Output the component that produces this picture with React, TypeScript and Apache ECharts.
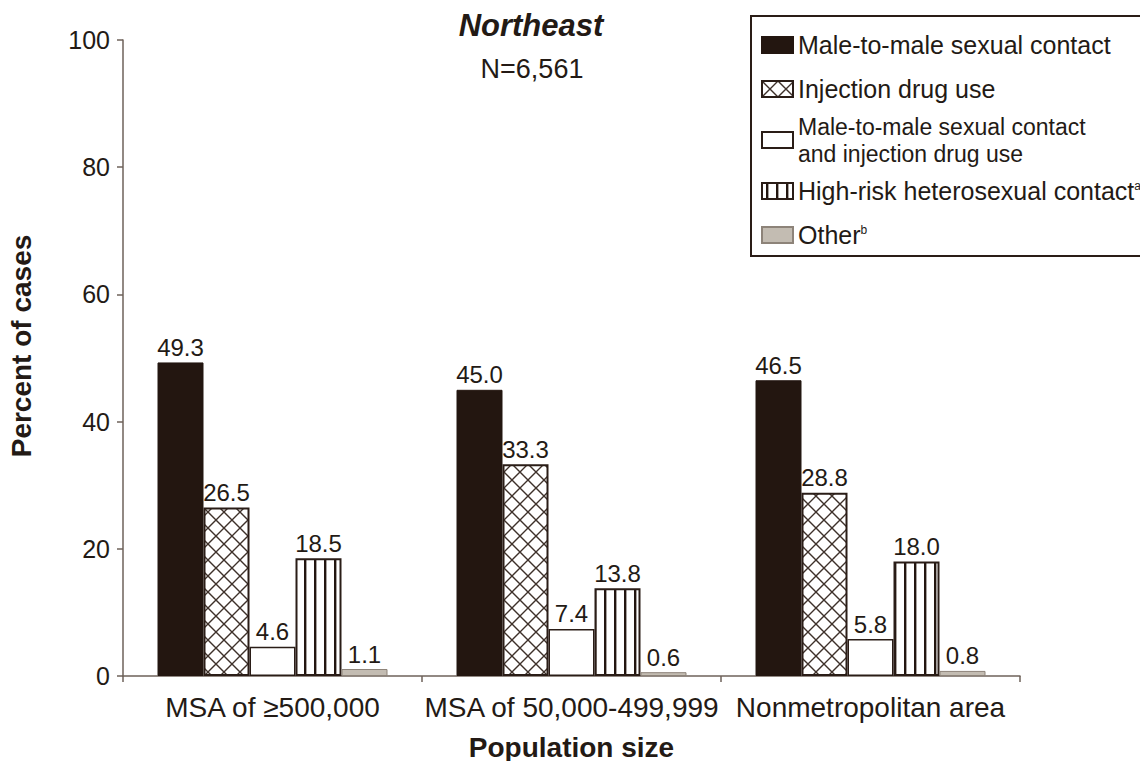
import React, { useEffect, useRef } from 'react';
import * as echarts from 'echarts';

const categories = ['MSA of ≥500,000', 'MSA of 50,000-499,999', 'Nonmetropolitan area'];
const seriesNames = [
  'Male-to-male sexual contact',
  'Injection drug use',
  'Male-to-male sexual contact and injection drug use',
  'High-risk heterosexual contact',
  'Other',
];
const msmValues = [49.3, 45.0, 46.5];
const iduValues = [26.5, 33.3, 28.8];
const msmIduValues = [4.6, 7.4, 5.8];
const heteroValues = [18.5, 13.8, 18.0];
const otherValues = [1.1, 0.6, 0.8];
const yMin = 0;
const yMax = 100;
const yStep = 20;
const titleText = 'Northeast';
const subText = 'N=6,561';
const xAxisName = 'Population size';
const yAxisName = 'Percent of cases';

const FONT = "'Liberation Sans', Arial, Helvetica, sans-serif";
const TXT = '#231a15';
const DARK = '#231610';
const EDGE = '#2a1d17';
const AXIS = '#6e625a';

const svgUrl = (s: string) => 'data:image/svg+xml;charset=utf-8,' + encodeURIComponent(s);

const crossPattern = {
  image: svgUrl(
    "<svg xmlns='http://www.w3.org/2000/svg' width='16' height='16'><rect width='16' height='16' fill='#ffffff'/><path d='M0 0L16 16M16 0L0 16' stroke='#3e312a' stroke-width='1.4' fill='none'/></svg>"
  ),
  repeat: 'repeat',
  imageWidth: 16,
  imageHeight: 16,
};

const stripePattern = {
  image: svgUrl(
    "<svg xmlns='http://www.w3.org/2000/svg' width='10' height='10'><rect width='10' height='10' fill='#ffffff'/><rect x='4' y='0' width='2.4' height='10' fill='#231610'/></svg>"
  ),
  repeat: 'repeat',
  imageWidth: 10,
  imageHeight: 10,
};

export default function App() {
  const ref = useRef<HTMLDivElement>(null);

  useEffect(() => {
    document.body.style.margin = '0';
    if (!ref.current) return;
    const chart = echarts.init(ref.current, undefined, { renderer: 'svg' });

    const label = {
      show: true,
      position: 'top',
      distance: 3,
      fontSize: 24,
      fontFamily: FONT,
      color: TXT,
      formatter: (p: any) => Number(p.value).toFixed(1),
    };

    const mk = (name: string, data: number[], itemStyle: any) => ({
      name,
      type: 'bar',
      data,
      barWidth: 46,
      barGap: '0%',
      label,
      itemStyle,
      emphasis: { disabled: true },
    });

    const option: any = {
      animation: false,
      backgroundColor: '#ffffff',
      textStyle: { fontFamily: FONT },
      grid: { left: 123, right: 120, top: 40, bottom: 85, containLabel: false, outerBoundsMode: 'none' },
      graphic: [
        {
          type: 'rect',
          shape: { x: 751, y: 16, width: 400, height: 240 },
          style: { fill: 'transparent', stroke: EDGE, lineWidth: 2 },
          silent: true,
        },
        {
          type: 'text',
          x: 531,
          y: 25,
          style: {
            text: titleText,
            fontSize: 31,
            fontWeight: 'bold',
            fontStyle: 'italic',
            fontFamily: FONT,
            fill: TXT,
            align: 'center',
            verticalAlign: 'middle',
            textAlign: 'center',
            textVerticalAlign: 'middle',
          },
        },
        {
          type: 'text',
          x: 532,
          y: 69,
          style: {
            text: subText,
            fontSize: 27,
            fontFamily: FONT,
            fill: TXT,
            align: 'center',
            verticalAlign: 'middle',
            textAlign: 'center',
            textVerticalAlign: 'middle',
          },
        },
      ],
      legend: {
        orient: 'vertical',
        left: 761,
        top: 27,
        padding: 0,
        icon: 'rect',
        itemWidth: 31,
        itemHeight: 16,
        itemGap: 8,
        selectedMode: false,
        data: seriesNames,
        textStyle: {
          fontSize: 25,
          color: TXT,
          fontFamily: FONT,
          rich: {
            s: { fontSize: 25, lineHeight: 22, padding: [5, 0, 6, 0], color: TXT, fontFamily: FONT },
            m: { fontSize: 23, lineHeight: 27, color: TXT, fontFamily: FONT },
            sup: { fontSize: 12, lineHeight: 14, verticalAlign: 'top', color: TXT, fontFamily: FONT },
          },
        },
        formatter: (name: string) => {
          if (name === seriesNames[2]) return '{m|Male-to-male sexual contact}\n{m|and injection drug use}';
          if (name === seriesNames[3]) return '{s|' + name + '}{sup|a}';
          if (name === seriesNames[4]) return '{s|' + name + '}{sup|b}';
          return '{s|' + name + '}';
        },
      },
      xAxis: {
        type: 'category',
        data: categories,
        axisLine: { show: true, lineStyle: { color: AXIS, width: 1.5 } },
        axisTick: { show: true, length: 6, lineStyle: { color: AXIS, width: 1.5 } },
        axisLabel: { fontSize: 28, color: TXT, margin: 17, interval: 0, fontFamily: FONT },
        name: xAxisName,
        nameLocation: 'middle',
        nameGap: 57,
        nameTextStyle: { fontSize: 28, fontWeight: 'bold', color: TXT, fontFamily: FONT },
      },
      yAxis: {
        type: 'value',
        min: yMin,
        max: yMax,
        interval: yStep,
        axisLine: { show: true, lineStyle: { color: AXIS, width: 1.5 } },
        axisTick: { show: true, length: 6, lineStyle: { color: AXIS, width: 1.5 } },
        splitLine: { show: false },
        axisLabel: { fontSize: 25, color: TXT, margin: 13, fontFamily: FONT },
        name: yAxisName,
        nameLocation: 'middle',
        nameGap: 88,
        nameRotate: 90,
        nameTextStyle: {
          fontSize: 28,
          fontWeight: 'bold',
          color: TXT,
          fontFamily: FONT,
          padding: [0, 0, 0, 24],
        },
      },
      series: [
        mk(seriesNames[0], msmValues, { color: DARK, borderColor: DARK, borderWidth: 1 }),
        mk(seriesNames[1], iduValues, { color: crossPattern, borderColor: EDGE, borderWidth: 2 }),
        mk(seriesNames[2], msmIduValues, { color: '#ffffff', borderColor: EDGE, borderWidth: 1.5 }),
        mk(seriesNames[3], heteroValues, { color: stripePattern, borderColor: EDGE, borderWidth: 2 }),
        mk(seriesNames[4], otherValues, { color: '#c3bcb2', borderColor: '#8d8379', borderWidth: 1 }),
      ],
    };

    chart.setOption(option);
    return () => chart.dispose();
  }, []);

  return <div ref={ref} style={{ width: 1140, height: 761 }} />;
}
